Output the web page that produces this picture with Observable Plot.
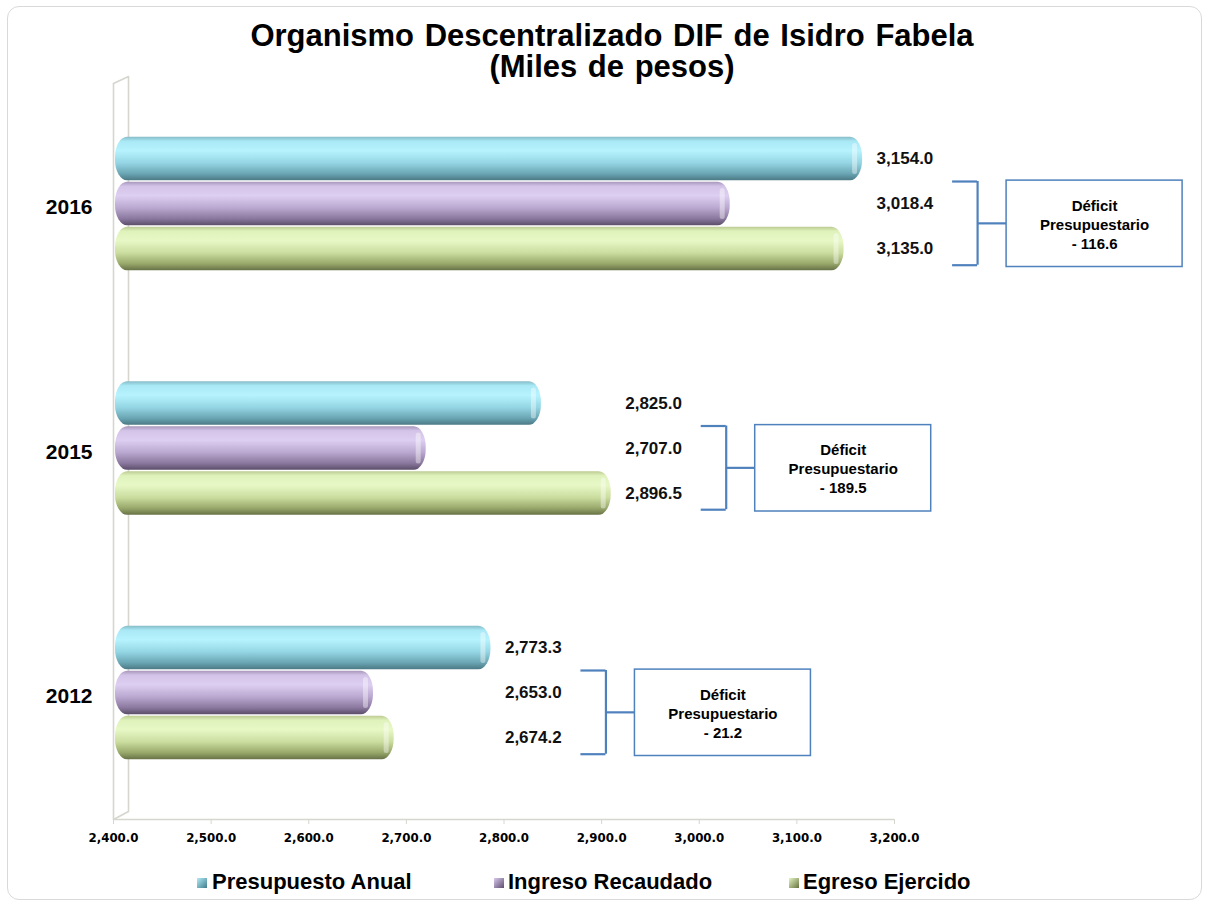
<!DOCTYPE html>
<html>
<head>
<meta charset="utf-8">
<script src="https://cdn.jsdelivr.net/npm/d3@7"></script>
<script src="https://cdn.jsdelivr.net/npm/@observablehq/plot@0.6"></script>
<style>
  html, body { margin:0; padding:0; background:#fff; width:1206px; height:907px; overflow:hidden;
    font-family:"Liberation Sans", Arial, sans-serif; color:#000; }
  #border { position:absolute; left:7px; top:6px; width:1195px; height:894px; border:1px solid #d9d9d9;
    border-radius:12px; box-sizing:border-box; }
  #title { position:absolute; left:0; top:19.5px; width:1206px; padding-left:18px; box-sizing:border-box; text-align:center;
    font-weight:bold; font-size:31px; line-height:31.5px; white-space:nowrap; word-spacing:2px; }
  #chart { position:absolute; left:0; top:76px; }
  .leg { position:absolute; top:871px; font-size:22px; line-height:22px; font-weight:bold; white-space:nowrap; }
  .sw { position:absolute; top:878px; width:10px; height:10px; }
</style>
</head>
<body>
<div id="border"></div>
<div id="title">Organismo Descentralizado DIF de Isidro Fabela<br>(Miles de pesos)</div>
<div id="chart"></div>
<div class="sw" style="left:197px;background:linear-gradient(135deg,#b3ecf8,#3f7c8c)"></div>
<div class="leg" style="left:212px">Presupuesto Anual</div>
<div class="sw" style="left:494px;background:linear-gradient(135deg,#d9c9ec,#5d4e70)"></div>
<div class="leg" style="left:508px">Ingreso Recaudado</div>
<div class="sw" style="left:789px;background:linear-gradient(135deg,#e4f5c2,#66733f)"></div>
<div class="leg" style="left:803px">Egreso Ejercido</div>
<script>
// ---------- data ----------
const years = ["2016", "2015", "2012"];
const series = ["Presupuesto Anual", "Ingreso Recaudado", "Egreso Ejercido"];
const presupuesto = [3154.0, 2825.0, 2773.3];
const ingreso = [3018.4, 2707.0, 2653.0];
const egreso = [3135.0, 2896.5, 2674.2];
const xTicks = [2400, 2500, 2600, 2700, 2800, 2900, 3000, 3100, 3200];
const X_MIN = 2400, X_MAX = 3200;

// ---------- layout ----------
const W = 1206, H = 774, ML = 113, MR = 312, MT = 7, MB = 31;
const GROUP_STEP = 5.4333;          // distance between year groups, in bar heights
const PAD_TOP = 1.178, PAD_BOTTOM = 1.311;
const Y_MIN = -0.5 - PAD_TOP;
const Y_MAX = (years.length - 1) * GROUP_STEP + 2.5 + PAD_BOTTOM;
const PX = (X_MAX - X_MIN) / (W - ML - MR);   // data units per pixel (x)
const PY = (Y_MAX - Y_MIN) / (H - MT - MB);   // data units per pixel (y)
const TICK_OFF = 103 * PX, VERT_OFF = 128 * PX, BOX_OFF = 157 * PX, BOX_W = 176 * PX;

const fmt = d3.format(",.1f");
const seriesArrays = [presupuesto, ingreso, egreso];

const rows = years.flatMap((yr, g) => seriesArrays.map((arr, s) => ({
  year: yr, series: series[s], value: arr[g], pos: g * GROUP_STEP + s,
  groupMax: Math.max(presupuesto[g], ingreso[g], egreso[g])
})));

const groups = years.map((yr, g) => ({
  year: yr, base: g * GROUP_STEP,
  max: Math.max(presupuesto[g], ingreso[g], egreso[g]),
  deficit: ingreso[g] - egreso[g]
}));

const wallX = X_MIN + 15 * PX;
const wall = [
  {x: X_MIN, y: Y_MIN}, {x: wallX, y: Y_MIN - 7 * PY},
  {x: wallX, y: Y_MAX - 8 * PY}, {x: X_MIN, y: Y_MAX}
];

const lineColor = "#4f81bd";
const wallColor = "#d6d6cf";

const svg = Plot.plot({
  width: W, height: H,
  marginLeft: ML, marginRight: MR, marginTop: MT, marginBottom: MB,
  style: {fontFamily: "'Liberation Sans', Arial, sans-serif", background: "transparent", overflow: "visible", color: "#000"},
  x: {domain: [X_MIN, X_MAX], axis: null},
  y: {domain: [Y_MIN, Y_MAX], reverse: true, axis: null},
  color: {type: "ordinal", domain: series, range: ["url(#gP)", "url(#gI)", "url(#gE)"]},
  marks: [
    // 3D back wall and floor
    Plot.ruleX([X_MIN], {stroke: wallColor, strokeWidth: 1.6}),
    Plot.line(wall, {x: "x", y: "y", stroke: wallColor, strokeWidth: 1.6}),
    Plot.ruleY([Y_MAX], {stroke: wallColor, strokeWidth: 1.6}),
    Plot.axisX(xTicks, {
      tickFormat: fmt, tickSize: 5, tickPadding: 9, stroke: wallColor, fill: "#000",
      fontFamily: "'DejaVu Sans', Verdana, sans-serif", fontSize: 11.8, fontWeight: "bold", label: null
    }),
    // cylinders
    Plot.rect(rows, {
      x1: () => X_MIN, x2: "value", y1: d => d.pos - 0.5, y2: d => d.pos + 0.5,
      fill: "series", insetTop: 0.8, insetBottom: 0.8, insetLeft: 2, insetRight: -13, rx: 12, ry: 20
    }),
    // end-cap highlight
    Plot.rect(rows, {
      x1: "value", x2: "value", y1: d => d.pos - 0.5, y2: d => d.pos + 0.5,
      fill: "white", fillOpacity: 0.4, insetTop: 7, insetBottom: 7, insetLeft: 3, insetRight: -8, rx: 2.5
    }),
    // value labels
    Plot.text(rows, {
      x: "groupMax", y: "pos", text: d => fmt(d.value), dx: 27, textAnchor: "start",
      fontSize: 17, fontWeight: "bold", fill: "#111"
    }),
    // brackets
    Plot.ruleX(groups, {x: d => d.max + VERT_OFF, y1: d => d.base + 0.5, y2: d => d.base + 2.36, stroke: lineColor, strokeWidth: 2.2}),
    Plot.ruleY(groups, {y: d => d.base + 0.5, x1: d => d.max + TICK_OFF, x2: d => d.max + VERT_OFF, stroke: lineColor, strokeWidth: 2.2}),
    Plot.ruleY(groups, {y: d => d.base + 2.36, x1: d => d.max + TICK_OFF, x2: d => d.max + VERT_OFF, stroke: lineColor, strokeWidth: 2.2}),
    Plot.ruleY(groups, {y: d => d.base + 1.43, x1: d => d.max + VERT_OFF, x2: d => d.max + BOX_OFF, stroke: lineColor, strokeWidth: 2.2}),
    // deficit boxes
    Plot.rect(groups, {
      x1: d => d.max + BOX_OFF, x2: d => d.max + BOX_OFF + BOX_W,
      y1: d => d.base + 0.48, y2: d => d.base + 2.4,
      fill: "white", stroke: lineColor, strokeWidth: 1.5
    }),
    Plot.text(groups, {
      x: d => d.max + BOX_OFF + BOX_W / 2, y: d => d.base + 1.44,
      text: d => `Déficit\nPresupuestario\n- ${fmt(Math.abs(d.deficit))}`,
      lineHeight: 1.27, fontSize: 15, fontWeight: "bold", fill: "#000", textAnchor: "middle"
    }),
    // year labels
    Plot.text(groups, {
      frameAnchor: "left", y: d => d.base + 1.08, text: "year", dx: -21, textAnchor: "end",
      fontSize: 21, fontWeight: "bold", fill: "#000"
    })
  ]
});

// gradients for the cylinder look
const defs = d3.select(svg).insert("defs", ":first-child");
function grad(id, stops) {
  const g = defs.append("linearGradient").attr("id", id).attr("x1", 0).attr("y1", 0).attr("x2", 0).attr("y2", 1);
  stops.forEach(([o, c]) => g.append("stop").attr("offset", o).attr("stop-color", c));
}
grad("gP", [[0, "#86bcc8"], [0.1, "#a9e8f5"], [0.32, "#b6f3fe"], [0.6, "#95d6e4"], [0.85, "#6aa5b3"], [1, "#4b7a85"]]);
grad("gI", [[0, "#a897bb"], [0.1, "#d3c3e8"], [0.32, "#ddcff1"], [0.6, "#baa8d0"], [0.85, "#8a789e"], [1, "#5c4e69"]]);
grad("gE", [[0, "#bccb92"], [0.1, "#dff2bb"], [0.32, "#e7f8c6"], [0.6, "#cbdd9f"], [0.85, "#98a86b"], [1, "#687246"]]);

document.getElementById("chart").appendChild(svg);
</script>
</body>
</html>
